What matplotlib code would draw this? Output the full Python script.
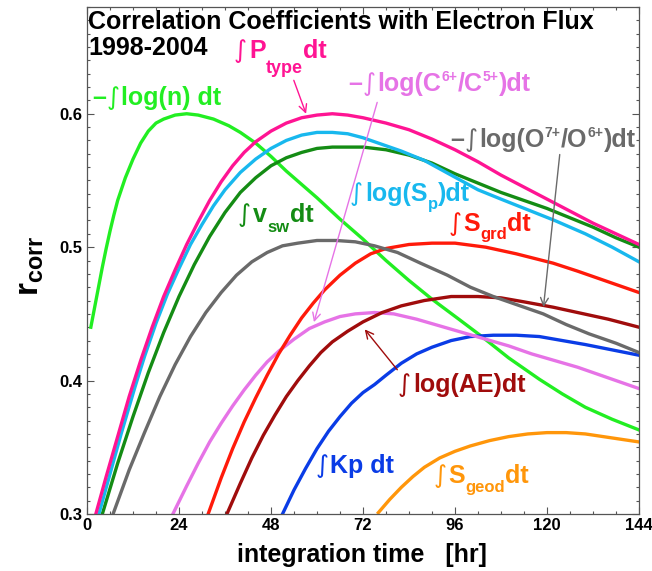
import numpy as np
import matplotlib
matplotlib.use("Agg")
import matplotlib.pyplot as plt
import matplotlib.transforms as mtransforms
from matplotlib.ticker import MultipleLocator

plt.rcParams['font.family'] = ['Liberation Sans', 'DejaVu Sans']
plt.rcParams['font.weight'] = 'bold'
plt.rcParams['mathtext.fontset'] = 'custom'
plt.rcParams['mathtext.bf'] = 'Liberation Sans:bold'
plt.rcParams['mathtext.rm'] = 'Liberation Sans:bold'
plt.rcParams['mathtext.it'] = 'Liberation Sans:bold'

# ---- data ----
logn_x = [1, 2, 3, 4, 5, 6, 7, 8, 10, 12, 14, 16, 18, 20, 23, 26, 29, 33, 37, 40, 44, 48, 52, 56, 60,
          66, 72, 78, 84, 90, 97, 103, 110, 118, 124, 130, 137, 144]
logn_y = [0.440, 0.455, 0.470, 0.485, 0.499, 0.512, 0.524, 0.535, 0.552, 0.566, 0.578, 0.587, 0.593,
          0.596, 0.599, 0.600, 0.599, 0.596, 0.591, 0.586, 0.578, 0.568, 0.557, 0.547, 0.537,
          0.521, 0.506, 0.490, 0.475, 0.461, 0.446, 0.433, 0.417, 0.401, 0.390, 0.380, 0.371, 0.363]

ptype_x = [2.3, 5, 8, 11, 14, 17, 20, 23, 26, 29, 32, 35, 38, 41, 44, 48, 52, 56, 60, 64, 68, 72, 78,
           84, 90, 96, 102, 108, 114, 120, 126, 132, 138, 144]
ptype_y = [0.300, 0.328, 0.358, 0.388, 0.415, 0.440, 0.463, 0.483, 0.502, 0.519, 0.535, 0.549, 0.561,
           0.571, 0.579, 0.587, 0.593, 0.597, 0.599, 0.600, 0.599, 0.597, 0.593, 0.588, 0.581, 0.573,
           0.564, 0.554, 0.545, 0.536, 0.527, 0.518, 0.510, 0.502]

sp_x = [3.1, 6, 9, 12.5, 15, 18, 21, 24, 27, 30, 33, 36, 40, 44, 48, 52, 56, 60, 64, 68, 72, 76, 82,
        88, 95, 102, 108, 115, 122, 130, 137, 144]
sp_y = [0.300, 0.330, 0.361, 0.395, 0.418, 0.443, 0.465, 0.484, 0.502, 0.517, 0.531, 0.543, 0.556,
        0.566, 0.574, 0.580, 0.584, 0.586, 0.586, 0.585, 0.582, 0.578, 0.572, 0.565, 0.554, 0.543,
        0.536, 0.528, 0.520, 0.510, 0.500, 0.489]

vsw_x = [4, 8, 12, 16, 20, 24, 28, 32, 36, 40, 44, 48, 52, 56, 60, 64, 68, 72, 78, 84, 90, 96, 102,
         108, 114, 120, 126, 132, 138, 144]
vsw_y = [0.300, 0.338, 0.373, 0.406, 0.436, 0.463, 0.487, 0.508, 0.526, 0.541, 0.552, 0.561, 0.567,
         0.571, 0.574, 0.575, 0.575, 0.575, 0.573, 0.569, 0.563, 0.555, 0.548, 0.541, 0.535, 0.529,
         0.522, 0.515, 0.507, 0.500]

o76_x = [6.8, 11, 15, 19, 23, 27, 31, 35, 39, 43, 47, 51, 55, 60, 65, 70, 75, 81, 87, 94, 100, 106,
         113, 119, 125, 131, 138, 144]
o76_y = [0.300, 0.333, 0.361, 0.388, 0.412, 0.433, 0.451, 0.466, 0.479, 0.489, 0.496, 0.501, 0.503,
         0.505, 0.505, 0.504, 0.501, 0.496, 0.488, 0.479, 0.470, 0.463, 0.456, 0.450, 0.442, 0.435,
         0.428, 0.421]

sgrd_x = [31.6, 35, 38, 41, 44, 47, 50, 53, 56, 59, 62, 66, 70, 74, 78, 84, 90, 96, 104, 112, 121.6,
          128, 136, 144]
sgrd_y = [0.300, 0.327, 0.349, 0.369, 0.387, 0.404, 0.420, 0.434, 0.447, 0.458, 0.468, 0.479, 0.488,
          0.495, 0.499, 0.502, 0.503, 0.503, 0.500, 0.495, 0.488, 0.482, 0.474, 0.466]

ae_x = [36.5, 40, 43, 46, 49, 52, 55, 58, 61, 64, 68, 72, 77, 82, 88, 95, 102, 108, 114, 121.6, 128,
        136, 144]
ae_y = [0.300, 0.323, 0.342, 0.359, 0.374, 0.388, 0.400, 0.411, 0.421, 0.429, 0.437, 0.444, 0.451,
        0.456, 0.460, 0.463, 0.463, 0.462, 0.459, 0.455, 0.451, 0.446, 0.440]

c65_x = [22.4, 26, 29, 32, 35, 38, 41, 44, 47, 50, 54, 58, 62, 66, 70, 75, 80, 86, 92, 98, 104, 110,
         116, 122, 128, 134, 139, 144]
c65_y = [0.300, 0.321, 0.338, 0.354, 0.368, 0.381, 0.393, 0.404, 0.414, 0.422, 0.431, 0.439, 0.444,
         0.448, 0.450, 0.451, 0.450, 0.446, 0.441, 0.436, 0.431, 0.426, 0.420, 0.415, 0.410, 0.404,
         0.399, 0.394]

kp_x = [51, 54, 57, 60, 63, 66, 69, 72, 75, 78, 82, 86, 90, 95, 100, 106, 112, 118, 124, 130, 137, 144]
kp_y = [0.300, 0.318, 0.334, 0.349, 0.362, 0.373, 0.383, 0.391, 0.397, 0.404, 0.413, 0.420, 0.425,
        0.430, 0.433, 0.434, 0.434, 0.433, 0.430, 0.427, 0.423, 0.419]

sgeod_x = [76, 79, 82, 85, 88, 92, 96, 100, 105, 110, 115, 120, 125, 130, 137, 144]
sgeod_y = [0.301, 0.311, 0.320, 0.328, 0.335, 0.342, 0.347, 0.351, 0.355, 0.358, 0.360, 0.361, 0.361,
           0.360, 0.357, 0.354]

xticks = [0, 24, 48, 72, 96, 120, 144]
yticks = [0.3, 0.4, 0.5, 0.6]

c_logn = '#22ee22'
c_ptype = '#ff1493'
c_sp = '#18b8ee'
c_vsw = '#148c14'
c_o76 = '#6a6a6a'
c_sgrd = '#ff1a0a'
c_ae = '#a00c0c'
c_c65 = '#e673e6'
c_kp = '#0a3ce6'
c_sgeod = '#ff960a'

fig = plt.figure(figsize=(6.52, 5.71), dpi=100)
ax = fig.add_axes([87 / 652, 57 / 571, 552 / 652, 507 / 571])

lw = 2.4
ax.plot(logn_x, logn_y, color=c_logn, lw=lw)
ax.plot(sgeod_x, sgeod_y, color=c_sgeod, lw=lw)
ax.plot(kp_x, kp_y, color=c_kp, lw=lw)
ax.plot(c65_x, c65_y, color=c_c65, lw=lw)
ax.plot(ae_x, ae_y, color=c_ae, lw=lw)
ax.plot(sgrd_x, sgrd_y, color=c_sgrd, lw=lw)
ax.plot(o76_x, o76_y, color=c_o76, lw=lw)
ax.plot(vsw_x, vsw_y, color=c_vsw, lw=lw)
ax.plot(sp_x, sp_y, color=c_sp, lw=lw)
ax.plot(ptype_x, ptype_y, color=c_ptype, lw=lw)

ax.set_xlim(0, 144)
ax.set_ylim(0.3, 0.68)
ax.set_xticks(xticks)
ax.set_yticks(yticks)
ax.set_yticklabels(['%.1f' % v for v in yticks])
ax.xaxis.set_minor_locator(MultipleLocator(6))
ax.yaxis.set_minor_locator(MultipleLocator(0.01))
ax.tick_params(which='both', direction='in', top=True, right=True, color='#555555', width=0.8)
ax.tick_params(which='major', length=5, labelsize=12, pad=3)
ax.tick_params(which='minor', length=2.5)
for s in ax.spines.values():
    s.set_color('#555555')
    s.set_linewidth(0.9)

fig.text(362 / 652, 9 / 571, 'integration time   [hr]', fontsize=18, fontweight='bold',
         ha='center', va='baseline')
fig.text(30 / 652, 0.535, r'$\mathbf{r}_{\mathbf{corr}}$', fontsize=24, rotation=90,
         ha='center', va='center')

ax.text(0.3, 0.6638, 'Correlation Coefficients with Electron Flux', fontsize=18, fontweight='bold',
        va='baseline')
ax.text(0.3, 0.6443, '1998-2004', fontsize=18, fontweight='bold', va='baseline')

renderer = fig.canvas.get_renderer()


def rich_label(x, y, parts, color):
    # parts: (text, fontsize, vertical offset in points); '∫' is drawn thin
    dx = 0.0
    for s, size, dy in parts:
        tr = ax.transData + mtransforms.ScaledTranslation(dx / 72, dy / 72, fig.dpi_scale_trans)
        if s == '∫':
            t = ax.text(x, y, s, transform=tr, fontsize=size, color=color, fontweight='normal',
                        family='DejaVu Sans', ha='left', va='baseline')
            gap = 1.5
        else:
            t = ax.text(x, y, s, transform=tr, fontsize=size, color=color, fontweight='bold',
                        ha='left', va='baseline')
            gap = 0.2
        w = t.get_window_extent(renderer).width
        dx += w * 72 / fig.dpi + gap


F = 18
rich_label(1.3, 0.6068, [('–', F, 0), ('∫', F, 0), ('log(n) dt', F, 0)], c_logn)
rich_label(38.35, 0.642, [('∫', 18, 0), ('P', 18, 0), ('type', 13, -11), ('dt', 18, 0)], c_ptype)
rich_label(68.1, 0.6173, [('–', F, 0), ('∫', F, 0), ('log(C', F, 0), ('6+', 10, 7), ('/C', F, 0),
                          ('5+', 10, 7), (')dt', F, 0)], c_c65)
rich_label(94.7, 0.5753, [('–', F, 0), ('∫', F, 0), ('log(O', F, 0), ('7+', 10, 7), ('/O', F, 0),
                          ('6+', 10, 7), (')dt', F, 0)], c_o76)
rich_label(68.6, 0.5348, [('∫', F, 0), ('log(S', F, 0), ('p', 12, -6), (')dt', F, 0)], c_sp)
rich_label(94.2, 0.5123, [('∫', F, 0), ('S', F, 0), ('grd', 12, -6), ('dt', F, 0)], c_sgrd)
rich_label(39.4, 0.519, [('∫', F, 0), ('v', F, 0), ('sw', 12, -7), ('dt', F, 0)], c_vsw)
rich_label(81.1, 0.3915, [('∫', F, 0), ('log(AE)dt', F, 0)], c_ae)
rich_label(59.5, 0.3308, [('∫', F, 0), ('Kp dt', F, 0)], c_kp)
rich_label(90.3, 0.3233, [('∫', F, 0), ('S', F, 0), ('geod', 12, -6.5), ('dt', F, 0)], c_sgeod)

arrow = dict(arrowstyle='->', lw=1.0, mutation_scale=14)
ax.annotate('', xy=(57.4, 0.598), xytext=(53.7, 0.627), arrowprops=dict(arrow, color=c_ptype))
ax.annotate('', xy=(59.0, 0.4418), xytext=(75.9, 0.6105), arrowprops=dict(arrow, color=c_c65))
ax.annotate('', xy=(119.0, 0.453), xytext=(123.4, 0.5715), arrowprops=dict(arrow, color=c_o76))
ax.annotate('', xy=(72.0, 0.440), xytext=(81.4, 0.4065), arrowprops=dict(arrow, color=c_ae))

fig.savefig('out.png', dpi=100)
